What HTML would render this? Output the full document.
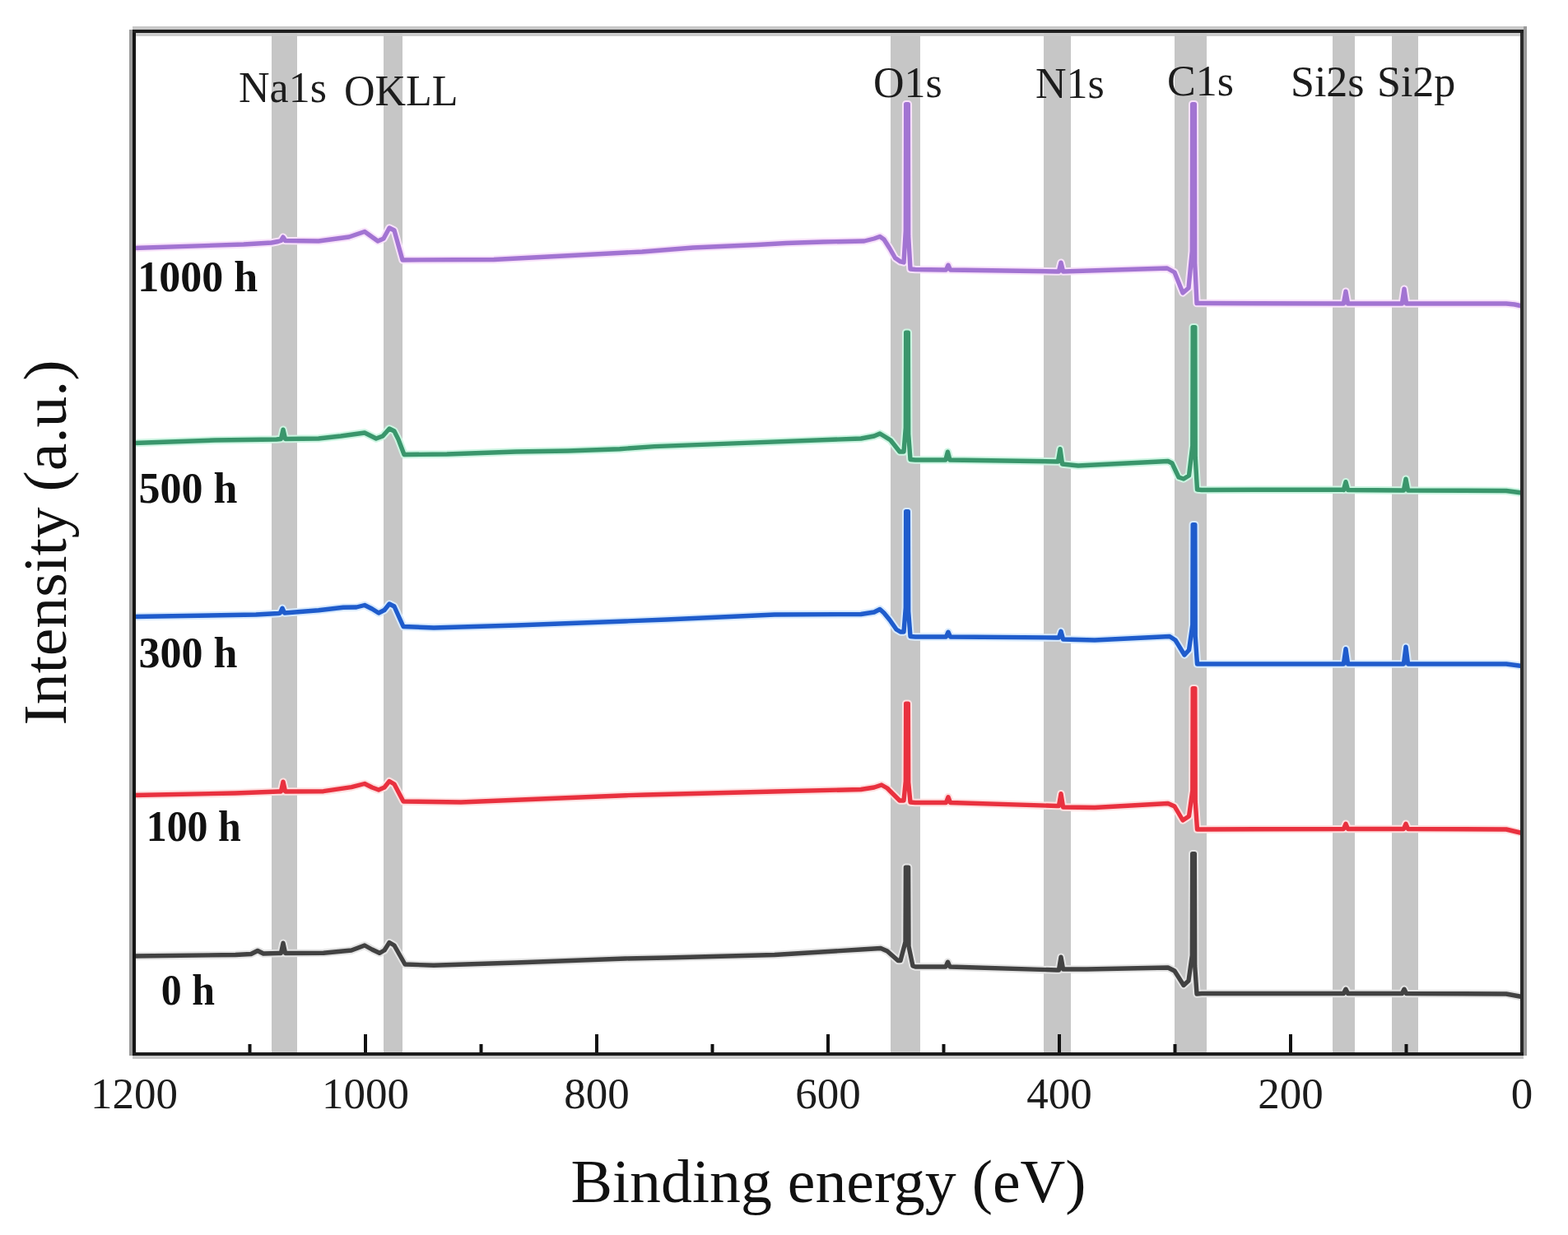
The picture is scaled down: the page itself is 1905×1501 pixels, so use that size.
<!DOCTYPE html>
<html><head><meta charset="utf-8"><title>XPS survey spectra</title>
<style>html,body{margin:0;padding:0;background:#fff;overflow:hidden;}svg{display:block;}</style>
</head><body>
<svg width="1905" height="1501" viewBox="0 0 1905 1501">
<rect x="0" y="0" width="1905" height="1501" fill="#ffffff"/>
<rect x="330" y="40" width="31" height="1239" fill="#c6c6c6"/>
<rect x="466" y="40" width="23" height="1239" fill="#c6c6c6"/>
<rect x="1082" y="40" width="36" height="1239" fill="#c6c6c6"/>
<rect x="1268" y="40" width="33" height="1239" fill="#c6c6c6"/>
<rect x="1427" y="40" width="39" height="1239" fill="#c6c6c6"/>
<rect x="1619" y="40" width="27" height="1239" fill="#c6c6c6"/>
<rect x="1691" y="40" width="32" height="1239" fill="#c6c6c6"/>
<polyline points="163.0,301.5 296.0,297.0 330.0,295.0 338.0,293.5 341.4,292.5 344.0,288.2 346.6,292.5 387.0,293.0 424.0,288.0 443.0,281.5 452.0,288.0 459.0,293.0 466.0,290.0 473.0,277.0 479.0,280.0 489.0,316.0 600.0,315.5 760.0,307.0 780.0,306.0 842.0,301.0 920.0,297.5 955.0,295.5 1000.0,294.0 1050.0,293.0 1062.0,290.0 1069.0,287.5 1074.0,291.0 1081.0,302.0 1087.5,313.5 1094.0,318.0 1098.0,319.0 1100.3,280.5 1100.7,126.7 1103.3,126.7 1103.7,286.9 1106.0,327.0 1112.0,327.5 1147.0,328.0 1149.4,328.0 1152.0,322.2 1154.6,328.0 1284.0,330.0 1286.4,330.0 1289.0,319.2 1291.6,330.0 1418.0,326.0 1427.0,331.0 1437.0,356.0 1444.0,350.0 1448.3,305.3 1448.7,126.7 1451.3,126.7 1451.7,320.1 1454.0,368.5 1460.0,368.5 1631.0,369.0 1632.4,369.0 1635.0,354.2 1637.6,369.0 1703.0,369.0 1703.4,369.0 1706.0,351.2 1708.6,369.0 1830.0,369.0 1840.0,370.0 1849.0,372.0" fill="none" stroke="#f8e2fa" stroke-width="9.5" stroke-linejoin="round" stroke-linecap="butt"/>
<polyline points="163.0,538.5 261.0,535.0 336.0,534.0 341.4,533.5 344.0,522.2 346.6,533.5 387.0,533.0 414.0,530.0 443.0,526.0 451.0,530.0 457.0,533.0 465.0,530.0 473.0,521.0 479.0,524.0 484.0,534.0 491.0,552.5 543.0,552.0 627.0,549.0 690.0,548.0 753.0,545.7 795.0,542.6 879.0,539.4 1046.0,533.0 1062.0,530.0 1069.0,527.0 1074.0,530.0 1082.0,535.0 1093.0,549.0 1098.0,549.0 1100.3,520.0 1100.7,404.2 1103.3,404.2 1103.7,527.6 1106.0,558.5 1112.0,559.0 1147.0,559.0 1148.8,559.0 1151.4,549.2 1154.0,559.0 1284.0,561.0 1285.4,561.0 1288.0,545.7 1290.6,564.0 1310.0,566.0 1419.0,560.5 1424.0,563.0 1432.0,580.0 1438.0,582.0 1444.5,578.0 1448.8,541.9 1449.2,397.7 1451.8,397.7 1452.2,555.5 1454.5,595.0 1460.0,595.5 1631.0,595.0 1632.4,595.5 1635.0,585.7 1637.6,595.5 1704.0,596.0 1705.4,596.0 1708.0,582.2 1710.6,596.0 1830.0,596.5 1849.0,599.0" fill="none" stroke="#cdf5e2" stroke-width="9.5" stroke-linejoin="round" stroke-linecap="butt"/>
<polyline points="163.0,749.5 311.0,747.0 338.0,745.5 340.4,745.0 343.0,739.2 345.6,745.0 387.0,741.7 417.0,738.3 433.0,738.0 443.0,735.5 452.0,740.0 460.0,745.0 467.0,741.5 473.0,734.0 479.0,737.0 490.0,761.5 527.0,763.0 627.0,760.0 760.0,755.0 810.0,753.0 941.0,747.0 1046.0,746.5 1062.0,744.0 1069.0,740.5 1074.0,745.0 1081.0,753.5 1089.0,765.0 1094.0,768.0 1098.0,768.0 1100.3,738.7 1100.7,621.7 1103.3,621.7 1103.7,743.1 1106.0,773.5 1112.0,774.0 1147.0,774.0 1149.4,774.0 1152.0,768.2 1154.6,774.0 1284.0,775.0 1286.4,775.0 1289.0,767.2 1291.6,777.0 1330.0,778.0 1421.0,773.5 1428.0,778.0 1439.0,796.0 1444.5,790.0 1448.8,759.5 1449.2,637.7 1451.8,637.7 1452.2,773.1 1454.5,807.0 1460.0,807.0 1631.0,807.0 1632.4,807.0 1635.0,788.7 1637.6,807.0 1704.0,807.0 1705.4,807.0 1708.0,786.2 1710.6,807.0 1830.0,807.0 1849.0,809.5" fill="none" stroke="#d8eafc" stroke-width="9.5" stroke-linejoin="round" stroke-linecap="butt"/>
<polyline points="163.0,966.5 286.0,964.0 338.0,962.0 341.4,962.0 344.0,950.2 346.6,962.0 393.0,961.7 427.0,956.7 443.0,952.5 452.0,957.0 460.0,960.0 467.0,957.0 473.0,949.5 479.0,953.0 490.0,974.0 560.0,975.0 760.0,966.7 784.0,966.0 941.0,962.0 1046.0,959.5 1062.0,957.0 1071.0,954.0 1078.0,958.0 1085.0,965.0 1093.0,973.0 1098.0,973.0 1100.3,949.4 1100.7,855.2 1103.3,855.2 1103.7,951.0 1106.0,975.0 1112.0,975.5 1147.0,975.5 1149.4,975.5 1152.0,968.7 1154.6,975.5 1284.0,979.5 1286.4,979.5 1289.0,964.7 1291.6,981.0 1330.0,981.5 1419.0,976.5 1427.0,980.0 1437.0,997.0 1444.5,992.0 1448.8,960.9 1449.2,836.7 1451.8,836.7 1452.2,973.7 1454.5,1008.0 1460.0,1008.0 1631.0,1007.5 1632.4,1007.5 1635.0,1001.2 1637.6,1007.5 1704.0,1007.5 1705.4,1007.5 1708.0,1001.2 1710.6,1007.5 1830.0,1008.0 1849.0,1012.5" fill="none" stroke="#fde0e0" stroke-width="9.5" stroke-linejoin="round" stroke-linecap="butt"/>
<polyline points="163.0,1162.0 286.0,1160.5 305.0,1159.5 313.0,1155.5 320.0,1159.0 338.0,1158.5 341.4,1158.5 344.0,1146.2 346.6,1158.5 393.0,1158.3 427.0,1155.0 443.0,1149.0 452.0,1154.0 461.0,1158.3 467.0,1155.0 473.0,1145.5 479.0,1149.0 492.0,1172.0 527.0,1173.3 627.0,1170.0 760.0,1165.0 810.0,1164.0 941.0,1160.5 1046.0,1154.0 1062.0,1153.0 1070.0,1152.5 1078.0,1156.0 1091.0,1167.5 1094.0,1167.5 1100.0,1144.8 1100.4,1054.2 1103.6,1054.2 1104.0,1150.0 1109.0,1174.0 1112.0,1175.0 1147.0,1175.0 1148.9,1175.0 1151.5,1169.2 1154.1,1175.0 1284.0,1179.0 1286.4,1179.0 1289.0,1163.2 1291.6,1178.0 1320.0,1178.0 1419.0,1176.0 1427.0,1180.0 1438.0,1197.5 1444.0,1192.0 1448.3,1161.1 1448.7,1037.7 1451.3,1037.7 1451.7,1173.9 1454.0,1208.0 1460.0,1207.5 1631.0,1207.5 1632.4,1207.5 1635.0,1202.2 1637.6,1207.5 1702.0,1207.5 1703.4,1207.5 1706.0,1202.2 1708.6,1207.5 1830.0,1208.0 1849.0,1211.5" fill="none" stroke="#e4e4e4" stroke-width="9.5" stroke-linejoin="round" stroke-linecap="butt"/>
<polyline points="163.0,301.5 296.0,297.0 330.0,295.0 338.0,293.5 341.4,292.5 344.0,288.2 346.6,292.5 387.0,293.0 424.0,288.0 443.0,281.5 452.0,288.0 459.0,293.0 466.0,290.0 473.0,277.0 479.0,280.0 489.0,316.0 600.0,315.5 760.0,307.0 780.0,306.0 842.0,301.0 920.0,297.5 955.0,295.5 1000.0,294.0 1050.0,293.0 1062.0,290.0 1069.0,287.5 1074.0,291.0 1081.0,302.0 1087.5,313.5 1094.0,318.0 1098.0,319.0 1100.3,280.5 1100.7,126.7 1103.3,126.7 1103.7,286.9 1106.0,327.0 1112.0,327.5 1147.0,328.0 1149.4,328.0 1152.0,322.2 1154.6,328.0 1284.0,330.0 1286.4,330.0 1289.0,319.2 1291.6,330.0 1418.0,326.0 1427.0,331.0 1437.0,356.0 1444.0,350.0 1448.3,305.3 1448.7,126.7 1451.3,126.7 1451.7,320.1 1454.0,368.5 1460.0,368.5 1631.0,369.0 1632.4,369.0 1635.0,354.2 1637.6,369.0 1703.0,369.0 1703.4,369.0 1706.0,351.2 1708.6,369.0 1830.0,369.0 1840.0,370.0 1849.0,372.0" fill="none" stroke="#a274d2" stroke-width="5.4" stroke-linejoin="round" stroke-linecap="butt"/>
<polyline points="163.0,538.5 261.0,535.0 336.0,534.0 341.4,533.5 344.0,522.2 346.6,533.5 387.0,533.0 414.0,530.0 443.0,526.0 451.0,530.0 457.0,533.0 465.0,530.0 473.0,521.0 479.0,524.0 484.0,534.0 491.0,552.5 543.0,552.0 627.0,549.0 690.0,548.0 753.0,545.7 795.0,542.6 879.0,539.4 1046.0,533.0 1062.0,530.0 1069.0,527.0 1074.0,530.0 1082.0,535.0 1093.0,549.0 1098.0,549.0 1100.3,520.0 1100.7,404.2 1103.3,404.2 1103.7,527.6 1106.0,558.5 1112.0,559.0 1147.0,559.0 1148.8,559.0 1151.4,549.2 1154.0,559.0 1284.0,561.0 1285.4,561.0 1288.0,545.7 1290.6,564.0 1310.0,566.0 1419.0,560.5 1424.0,563.0 1432.0,580.0 1438.0,582.0 1444.5,578.0 1448.8,541.9 1449.2,397.7 1451.8,397.7 1452.2,555.5 1454.5,595.0 1460.0,595.5 1631.0,595.0 1632.4,595.5 1635.0,585.7 1637.6,595.5 1704.0,596.0 1705.4,596.0 1708.0,582.2 1710.6,596.0 1830.0,596.5 1849.0,599.0" fill="none" stroke="#3a966c" stroke-width="5.4" stroke-linejoin="round" stroke-linecap="butt"/>
<polyline points="163.0,749.5 311.0,747.0 338.0,745.5 340.4,745.0 343.0,739.2 345.6,745.0 387.0,741.7 417.0,738.3 433.0,738.0 443.0,735.5 452.0,740.0 460.0,745.0 467.0,741.5 473.0,734.0 479.0,737.0 490.0,761.5 527.0,763.0 627.0,760.0 760.0,755.0 810.0,753.0 941.0,747.0 1046.0,746.5 1062.0,744.0 1069.0,740.5 1074.0,745.0 1081.0,753.5 1089.0,765.0 1094.0,768.0 1098.0,768.0 1100.3,738.7 1100.7,621.7 1103.3,621.7 1103.7,743.1 1106.0,773.5 1112.0,774.0 1147.0,774.0 1149.4,774.0 1152.0,768.2 1154.6,774.0 1284.0,775.0 1286.4,775.0 1289.0,767.2 1291.6,777.0 1330.0,778.0 1421.0,773.5 1428.0,778.0 1439.0,796.0 1444.5,790.0 1448.8,759.5 1449.2,637.7 1451.8,637.7 1452.2,773.1 1454.5,807.0 1460.0,807.0 1631.0,807.0 1632.4,807.0 1635.0,788.7 1637.6,807.0 1704.0,807.0 1705.4,807.0 1708.0,786.2 1710.6,807.0 1830.0,807.0 1849.0,809.5" fill="none" stroke="#1f5ccc" stroke-width="5.4" stroke-linejoin="round" stroke-linecap="butt"/>
<polyline points="163.0,966.5 286.0,964.0 338.0,962.0 341.4,962.0 344.0,950.2 346.6,962.0 393.0,961.7 427.0,956.7 443.0,952.5 452.0,957.0 460.0,960.0 467.0,957.0 473.0,949.5 479.0,953.0 490.0,974.0 560.0,975.0 760.0,966.7 784.0,966.0 941.0,962.0 1046.0,959.5 1062.0,957.0 1071.0,954.0 1078.0,958.0 1085.0,965.0 1093.0,973.0 1098.0,973.0 1100.3,949.4 1100.7,855.2 1103.3,855.2 1103.7,951.0 1106.0,975.0 1112.0,975.5 1147.0,975.5 1149.4,975.5 1152.0,968.7 1154.6,975.5 1284.0,979.5 1286.4,979.5 1289.0,964.7 1291.6,981.0 1330.0,981.5 1419.0,976.5 1427.0,980.0 1437.0,997.0 1444.5,992.0 1448.8,960.9 1449.2,836.7 1451.8,836.7 1452.2,973.7 1454.5,1008.0 1460.0,1008.0 1631.0,1007.5 1632.4,1007.5 1635.0,1001.2 1637.6,1007.5 1704.0,1007.5 1705.4,1007.5 1708.0,1001.2 1710.6,1007.5 1830.0,1008.0 1849.0,1012.5" fill="none" stroke="#e9313f" stroke-width="5.4" stroke-linejoin="round" stroke-linecap="butt"/>
<polyline points="163.0,1162.0 286.0,1160.5 305.0,1159.5 313.0,1155.5 320.0,1159.0 338.0,1158.5 341.4,1158.5 344.0,1146.2 346.6,1158.5 393.0,1158.3 427.0,1155.0 443.0,1149.0 452.0,1154.0 461.0,1158.3 467.0,1155.0 473.0,1145.5 479.0,1149.0 492.0,1172.0 527.0,1173.3 627.0,1170.0 760.0,1165.0 810.0,1164.0 941.0,1160.5 1046.0,1154.0 1062.0,1153.0 1070.0,1152.5 1078.0,1156.0 1091.0,1167.5 1094.0,1167.5 1100.0,1144.8 1100.4,1054.2 1103.6,1054.2 1104.0,1150.0 1109.0,1174.0 1112.0,1175.0 1147.0,1175.0 1148.9,1175.0 1151.5,1169.2 1154.1,1175.0 1284.0,1179.0 1286.4,1179.0 1289.0,1163.2 1291.6,1178.0 1320.0,1178.0 1419.0,1176.0 1427.0,1180.0 1438.0,1197.5 1444.0,1192.0 1448.3,1161.1 1448.7,1037.7 1451.3,1037.7 1451.7,1173.9 1454.0,1208.0 1460.0,1207.5 1631.0,1207.5 1632.4,1207.5 1635.0,1202.2 1637.6,1207.5 1702.0,1207.5 1703.4,1207.5 1706.0,1202.2 1708.6,1207.5 1830.0,1208.0 1849.0,1211.5" fill="none" stroke="#424242" stroke-width="5.4" stroke-linejoin="round" stroke-linecap="butt"/>
<rect x="157" y="36" width="4" height="1247" fill="#9a9a9a"/>
<rect x="1851" y="32" width="4" height="1251" fill="#9a9a9a"/>
<rect x="161" y="32" width="1690" height="4" fill="#c8c8c8"/>
<rect x="161" y="40" width="1686" height="4" fill="#c8c8c8" opacity="0.9"/>
<rect x="161" y="1283" width="1690" height="4" fill="#c8c8c8"/>
<rect x="161" y="36" width="4" height="1247" fill="#141414"/>
<rect x="1847" y="36" width="4" height="1247" fill="#2a2a2a"/>
<rect x="161" y="36" width="1690" height="4" fill="#1e1e1e"/>
<rect x="161" y="1279" width="1690" height="4" fill="#1a1a1a"/>
<rect x="1706.5" y="1269" width="4" height="10" fill="#111"/>
<rect x="1566.0" y="1257" width="4" height="22" fill="#111"/>
<rect x="1425.5" y="1269" width="4" height="10" fill="#111"/>
<rect x="1285.0" y="1257" width="4" height="22" fill="#111"/>
<rect x="1144.5" y="1269" width="4" height="10" fill="#111"/>
<rect x="1004.0" y="1257" width="4" height="22" fill="#111"/>
<rect x="863.5" y="1269" width="4" height="10" fill="#111"/>
<rect x="723.0" y="1257" width="4" height="22" fill="#111"/>
<rect x="582.5" y="1269" width="4" height="10" fill="#111"/>
<rect x="442.0" y="1257" width="4" height="22" fill="#111"/>
<rect x="301.5" y="1269" width="4" height="10" fill="#111"/>
<text transform="translate(1849.0,1347)" text-anchor="middle" style="font-family:'Liberation Serif','Times New Roman',serif;font-size:53px" fill="#1c1c1c">0</text>
<text transform="translate(1568.0,1347)" text-anchor="middle" style="font-family:'Liberation Serif','Times New Roman',serif;font-size:53px" fill="#1c1c1c">200</text>
<text transform="translate(1287.0,1347)" text-anchor="middle" style="font-family:'Liberation Serif','Times New Roman',serif;font-size:53px" fill="#1c1c1c">400</text>
<text transform="translate(1006.0,1347)" text-anchor="middle" style="font-family:'Liberation Serif','Times New Roman',serif;font-size:53px" fill="#1c1c1c">600</text>
<text transform="translate(725.0,1347)" text-anchor="middle" style="font-family:'Liberation Serif','Times New Roman',serif;font-size:53px" fill="#1c1c1c">800</text>
<text transform="translate(444.0,1347)" text-anchor="middle" style="font-family:'Liberation Serif','Times New Roman',serif;font-size:53px" fill="#1c1c1c">1000</text>
<text transform="translate(163.0,1347)" text-anchor="middle" style="font-family:'Liberation Serif','Times New Roman',serif;font-size:53px" fill="#1c1c1c">1200</text>
<text transform="translate(1006.5,1460.5) scale(1.039,1)" text-anchor="middle" style="font-family:'Liberation Serif','Times New Roman',serif;font-size:73px" fill="#111">Binding energy (eV)</text>
<text transform="translate(79.5,659.5) rotate(-90) scale(1.024,1)" text-anchor="middle" style="font-family:'Liberation Serif','Times New Roman',serif;font-size:74px" fill="#111">Intensity (a.u.)</text>
<text transform="translate(290,123.5)" style="font-family:'Liberation Serif','Times New Roman',serif;font-size:52px" fill="#1c1c1c">Na1s</text>
<text transform="translate(418,127.5)" style="font-family:'Liberation Serif','Times New Roman',serif;font-size:52px" fill="#1c1c1c">OKLL</text>
<text transform="translate(1061,117.5)" style="font-family:'Liberation Serif','Times New Roman',serif;font-size:52px" fill="#1c1c1c">O1s</text>
<text transform="translate(1258,119)" style="font-family:'Liberation Serif','Times New Roman',serif;font-size:52px" fill="#1c1c1c">N1s</text>
<text transform="translate(1418,116)" style="font-family:'Liberation Serif','Times New Roman',serif;font-size:52px" fill="#1c1c1c">C1s</text>
<text transform="translate(1568,117)" style="font-family:'Liberation Serif','Times New Roman',serif;font-size:52px" fill="#1c1c1c">Si2s</text>
<text transform="translate(1673,117)" style="font-family:'Liberation Serif','Times New Roman',serif;font-size:52px" fill="#1c1c1c">Si2p</text>
<text transform="translate(167.3,354)" style="font-family:'Liberation Serif','Times New Roman',serif;font-size:52px;font-weight:bold" fill="#111">1000 h</text>
<text transform="translate(168.6,610.5)" style="font-family:'Liberation Serif','Times New Roman',serif;font-size:52px;font-weight:bold" fill="#111">500 h</text>
<text transform="translate(168.4,811)" style="font-family:'Liberation Serif','Times New Roman',serif;font-size:52px;font-weight:bold" fill="#111">300 h</text>
<text transform="translate(177.7,1021.5) scale(0.96,1)" style="font-family:'Liberation Serif','Times New Roman',serif;font-size:52px;font-weight:bold" fill="#111">100 h</text>
<text transform="translate(195.8,1221) scale(0.96,1)" style="font-family:'Liberation Serif','Times New Roman',serif;font-size:52px;font-weight:bold" fill="#111">0 h</text>
</svg>
</body></html>
